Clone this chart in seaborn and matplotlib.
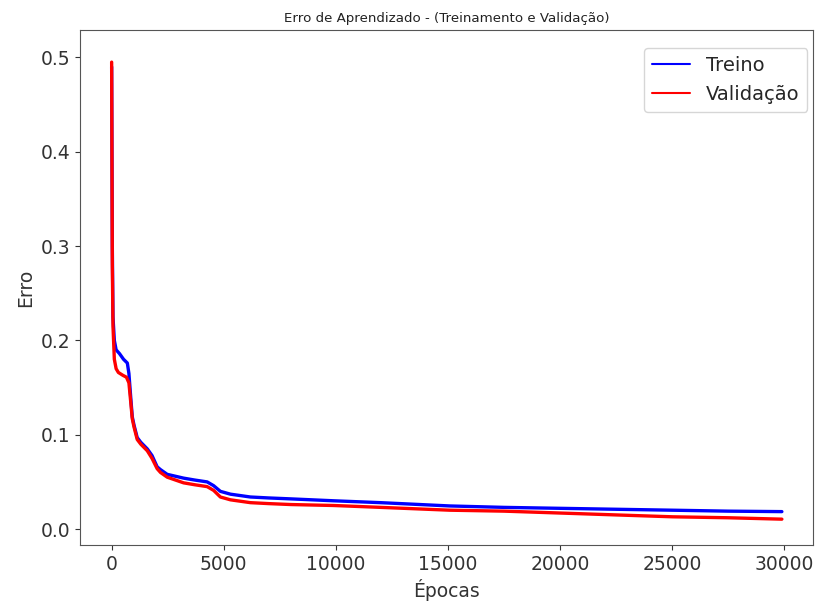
import numpy as np
import pandas as pd
import matplotlib
matplotlib.use("Agg")
import matplotlib.pyplot as plt
import seaborn as sns

# valores (epoca, erro)
epocas_treino = [0, 30, 60, 120, 200, 350, 530, 700, 770, 850, 920, 1000, 1140, 1300,
                 1590, 1800, 2030, 2180, 2480, 3210, 3700, 4260, 4550, 4850, 5300,
                 6190, 7000, 8000, 9890, 12000, 15090, 17500, 20000, 22500, 25030,
                 27500, 29900]
erro_treino = [0.49, 0.30, 0.225, 0.20, 0.19, 0.186, 0.18, 0.176, 0.165, 0.14, 0.119,
               0.11, 0.097, 0.092, 0.085, 0.078, 0.066, 0.063, 0.058, 0.054, 0.052,
               0.050, 0.046, 0.040, 0.037, 0.034, 0.033, 0.032, 0.030, 0.028, 0.0245,
               0.023, 0.022, 0.021, 0.020, 0.019, 0.0185]

epocas_val = [0, 30, 60, 120, 200, 300, 500, 660, 770, 850, 920, 1000, 1140, 1300,
              1590, 1800, 2030, 2180, 2480, 3210, 3700, 4260, 4550, 4850, 5300,
              6190, 7000, 8000, 9890, 12000, 15090, 17500, 20000, 22500, 25030,
              27500, 29900]
erro_val = [0.495, 0.28, 0.215, 0.18, 0.17, 0.166, 0.163, 0.161, 0.155, 0.135, 0.117,
            0.108, 0.095, 0.09, 0.083, 0.075, 0.064, 0.060, 0.055, 0.049, 0.047,
            0.045, 0.041, 0.034, 0.031, 0.028, 0.027, 0.026, 0.025, 0.023, 0.020,
            0.019, 0.017, 0.015, 0.013, 0.012, 0.0105]

sns.set_style("ticks")
plt.rcParams['font.family'] = ['DejaVu Sans']

fig = plt.figure(figsize=(8.19, 6.01), dpi=100)
ax = fig.add_axes([0.098, 0.093, 0.895, 0.857])

df_t = pd.DataFrame({'epoca': epocas_treino, 'erro': erro_treino})
df_v = pd.DataFrame({'epoca': epocas_val, 'erro': erro_val})
sns.lineplot(data=df_t, x='epoca', y='erro', color='blue', lw=2.4, label='Treino', ax=ax)
sns.lineplot(data=df_v, x='epoca', y='erro', color='red', lw=2.4, label='Validação', ax=ax)

ax.set_xlim(-1400, 31300)
ax.set_ylim(-0.017, 0.529)
ax.set_xticks([0, 5000, 10000, 15000, 20000, 25000, 30000])
ax.set_yticks([0.0, 0.1, 0.2, 0.3, 0.4, 0.5])
ax.tick_params(labelsize=13.5, colors='#333333')
for s in ax.spines.values():
    s.set_visible(True)
    s.set_color('#555555')
ax.set_title('Erro de Aprendizado - (Treinamento e Validação)', fontsize=9.6, color='#222222')
ax.set_xlabel('Épocas', fontsize=13.5, color='#333333')
ax.set_ylabel('Erro', fontsize=13.5, color='#333333')
leg = ax.legend(loc='upper right', fontsize=14, bbox_to_anchor=(1.0, 0.976),
                borderaxespad=0.3)
for l in leg.get_lines():
    l.set_linewidth(1.5)

fig.savefig('out.png', dpi=100)
